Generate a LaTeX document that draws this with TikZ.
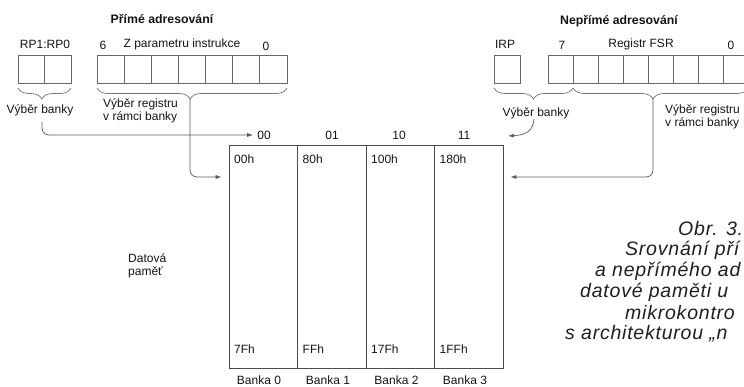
\documentclass[tikz,border=0pt]{standalone}
\usepackage{fontspec}
\setmainfont{Liberation Sans}
\newfontfamily\captfont[LetterSpace=4]{Liberation Sans}
\usetikzlibrary{arrows.meta,decorations.pathreplacing}
\begin{document}
\begin{tikzpicture}[x=1pt,y=-1pt,
  lbl/.style={font=\fontsize{12}{13}\selectfont, text=black!92, inner sep=0pt},
  hd/.style={font=\fontsize{12.3}{14}\selectfont\bfseries, text=black!92, inner sep=0pt},
  capt/.style={font=\captfont\fontsize{19.5}{21}\selectfont\itshape, text=black!88, inner sep=0pt, anchor=west},
  cell/.style={draw=black!60, line width=0.7pt, inner sep=0pt, minimum height=28pt},
  bankbox/.style={draw=black!70, line width=0.8pt, inner sep=0pt, minimum width=68.5pt, minimum height=223pt},
  curlyb/.style={draw=black!55, line width=0.7pt, decorate, decoration={brace, mirror, amplitude=11pt}},
  conn/.style={draw=black!65, line width=0.7pt, -{Latex[length=6pt,width=4pt]}}]
\useasboundingbox (0,0) rectangle (744,387);

% headings
\node[hd] (hd1) at (162,19) {Přímé adresování};
\node[hd] (hd2) at (619,21) {Nepřímé adresování};

% bit labels
\node[lbl] (rp) at (45,44) {RP1:RP0};
\node[lbl] (n6) at (103,45) {6};
\node[lbl] (zp) at (182,44) {Z parametru instrukce};
\node[lbl] (n0) at (266,46) {0};
\node[lbl] (irp) at (505,44) {IRP};
\node[lbl] (n7) at (562,45) {7};
\node[lbl] (fsr) at (641,44) {Registr FSR};
\node[lbl] (n0b) at (731,45) {0};

% register cells
\foreach \i in {0,1} {
  \node[cell, minimum width=26.5pt] (r\i) at ({31.25+26.5*\i},69) {};
}
\foreach \i in {0,...,6} {
  \node[cell, minimum width=27.14pt] (m\i) at ({110.57+27.14*\i},69) {};
}
\node[cell, minimum width=26pt] (irpc) at (507,69) {};
\foreach \i in {0,...,7} {
  \node[cell, minimum width=25pt] (f\i) at ({560.5+25*\i},69) {};
}

% braces
\draw[curlyb, decoration={aspect=0.45}] (18,88) -- (71,88);
\draw[curlyb, decoration={aspect=0.49}] (97,88) -- (287,88);
\draw[curlyb, decoration={aspect=0.5}] (494,88) -- (573,88);
\draw[curlyb, decoration={aspect=0.457}] (573,88) -- (748,88);
\coordinate (t2) at (190,99);
\coordinate (t4) at (653,99);

% brace captions
\node[lbl] (vb1) at (40,110) {Výběr banky};
\node[lbl, align=left, anchor=west] (vr1) at (103,111) {Výběr registru\\v rámci banky};
\node[lbl] (vb2) at (536,113) {Výběr banky};
\node[lbl, align=left, anchor=west] (vr2) at (665,117) {Výběr registru\\v rámci banky};

% bank column numbers
\node[lbl] (c00) at (264,135) {00};
\node[lbl] (c01) at (332,135) {01};
\node[lbl] (c10) at (399,135) {10};
\node[lbl] (c11) at (464,135) {11};

% memory
\foreach \i in {0,...,3} {
  \node[bankbox] (bank\i) at ({263.25+68.5*\i},256.5) {};
}
\node[lbl, anchor=west] (a0) at (234,159) {00h};
\node[lbl, anchor=west] (a1) at (302.5,159) {80h};
\node[lbl, anchor=west] (a2) at (371,159) {100h};
\node[lbl, anchor=west] (a3) at (439.5,159) {180h};
\node[lbl, anchor=west] (e0) at (234,349) {7Fh};
\node[lbl, anchor=west] (e1) at (302.5,349) {FFh};
\node[lbl, anchor=west] (e2) at (371,349) {17Fh};
\node[lbl, anchor=west] (e3) at (439.5,349) {1FFh};
\node[lbl] (k0) at (259,380) {Banka 0};
\node[lbl] (k1) at (328,380) {Banka 1};
\node[lbl] (k2) at (396.5,380) {Banka 2};
\node[lbl] (k3) at (465,380) {Banka 3};

\node[lbl, align=left, anchor=west] (dp) at (128,266) {Datová\\paměť};

% connectors
\coordinate (s1) at (42,122);
\coordinate (y177) at (0,177);
\coordinate (s3) at (534,119);
\coordinate (e3a) at (508,136);
\draw[conn, rounded corners=7pt, shorten >=4pt] (s1) |- (c00.west);
\draw[conn, rounded corners=7pt, shorten >=7pt] (t2) |- (bank0.west |- y177);
\draw[conn, rounded corners=7pt, shorten >=7pt] (t4) |- (bank3.east |- y177);
\draw[conn] (s3) .. controls (533,131) and (526,135) .. (e3a);

% caption (cut off at the right edge)
\node[capt] (cap1) at (678,229) {Obr. 3.};
\node[capt] (cap2) at (625,250) {Srovnání pří};
\node[capt] (cap3) at (595,271) {a nepřímého ad};
\node[capt] (cap4) at (580,292) {datové paměti u};
\node[capt] (cap5) at (625,313) {mikrokontro};
\node[capt] (cap6) at (565,334) {s architekturou „n};
\end{tikzpicture}
\end{document}
